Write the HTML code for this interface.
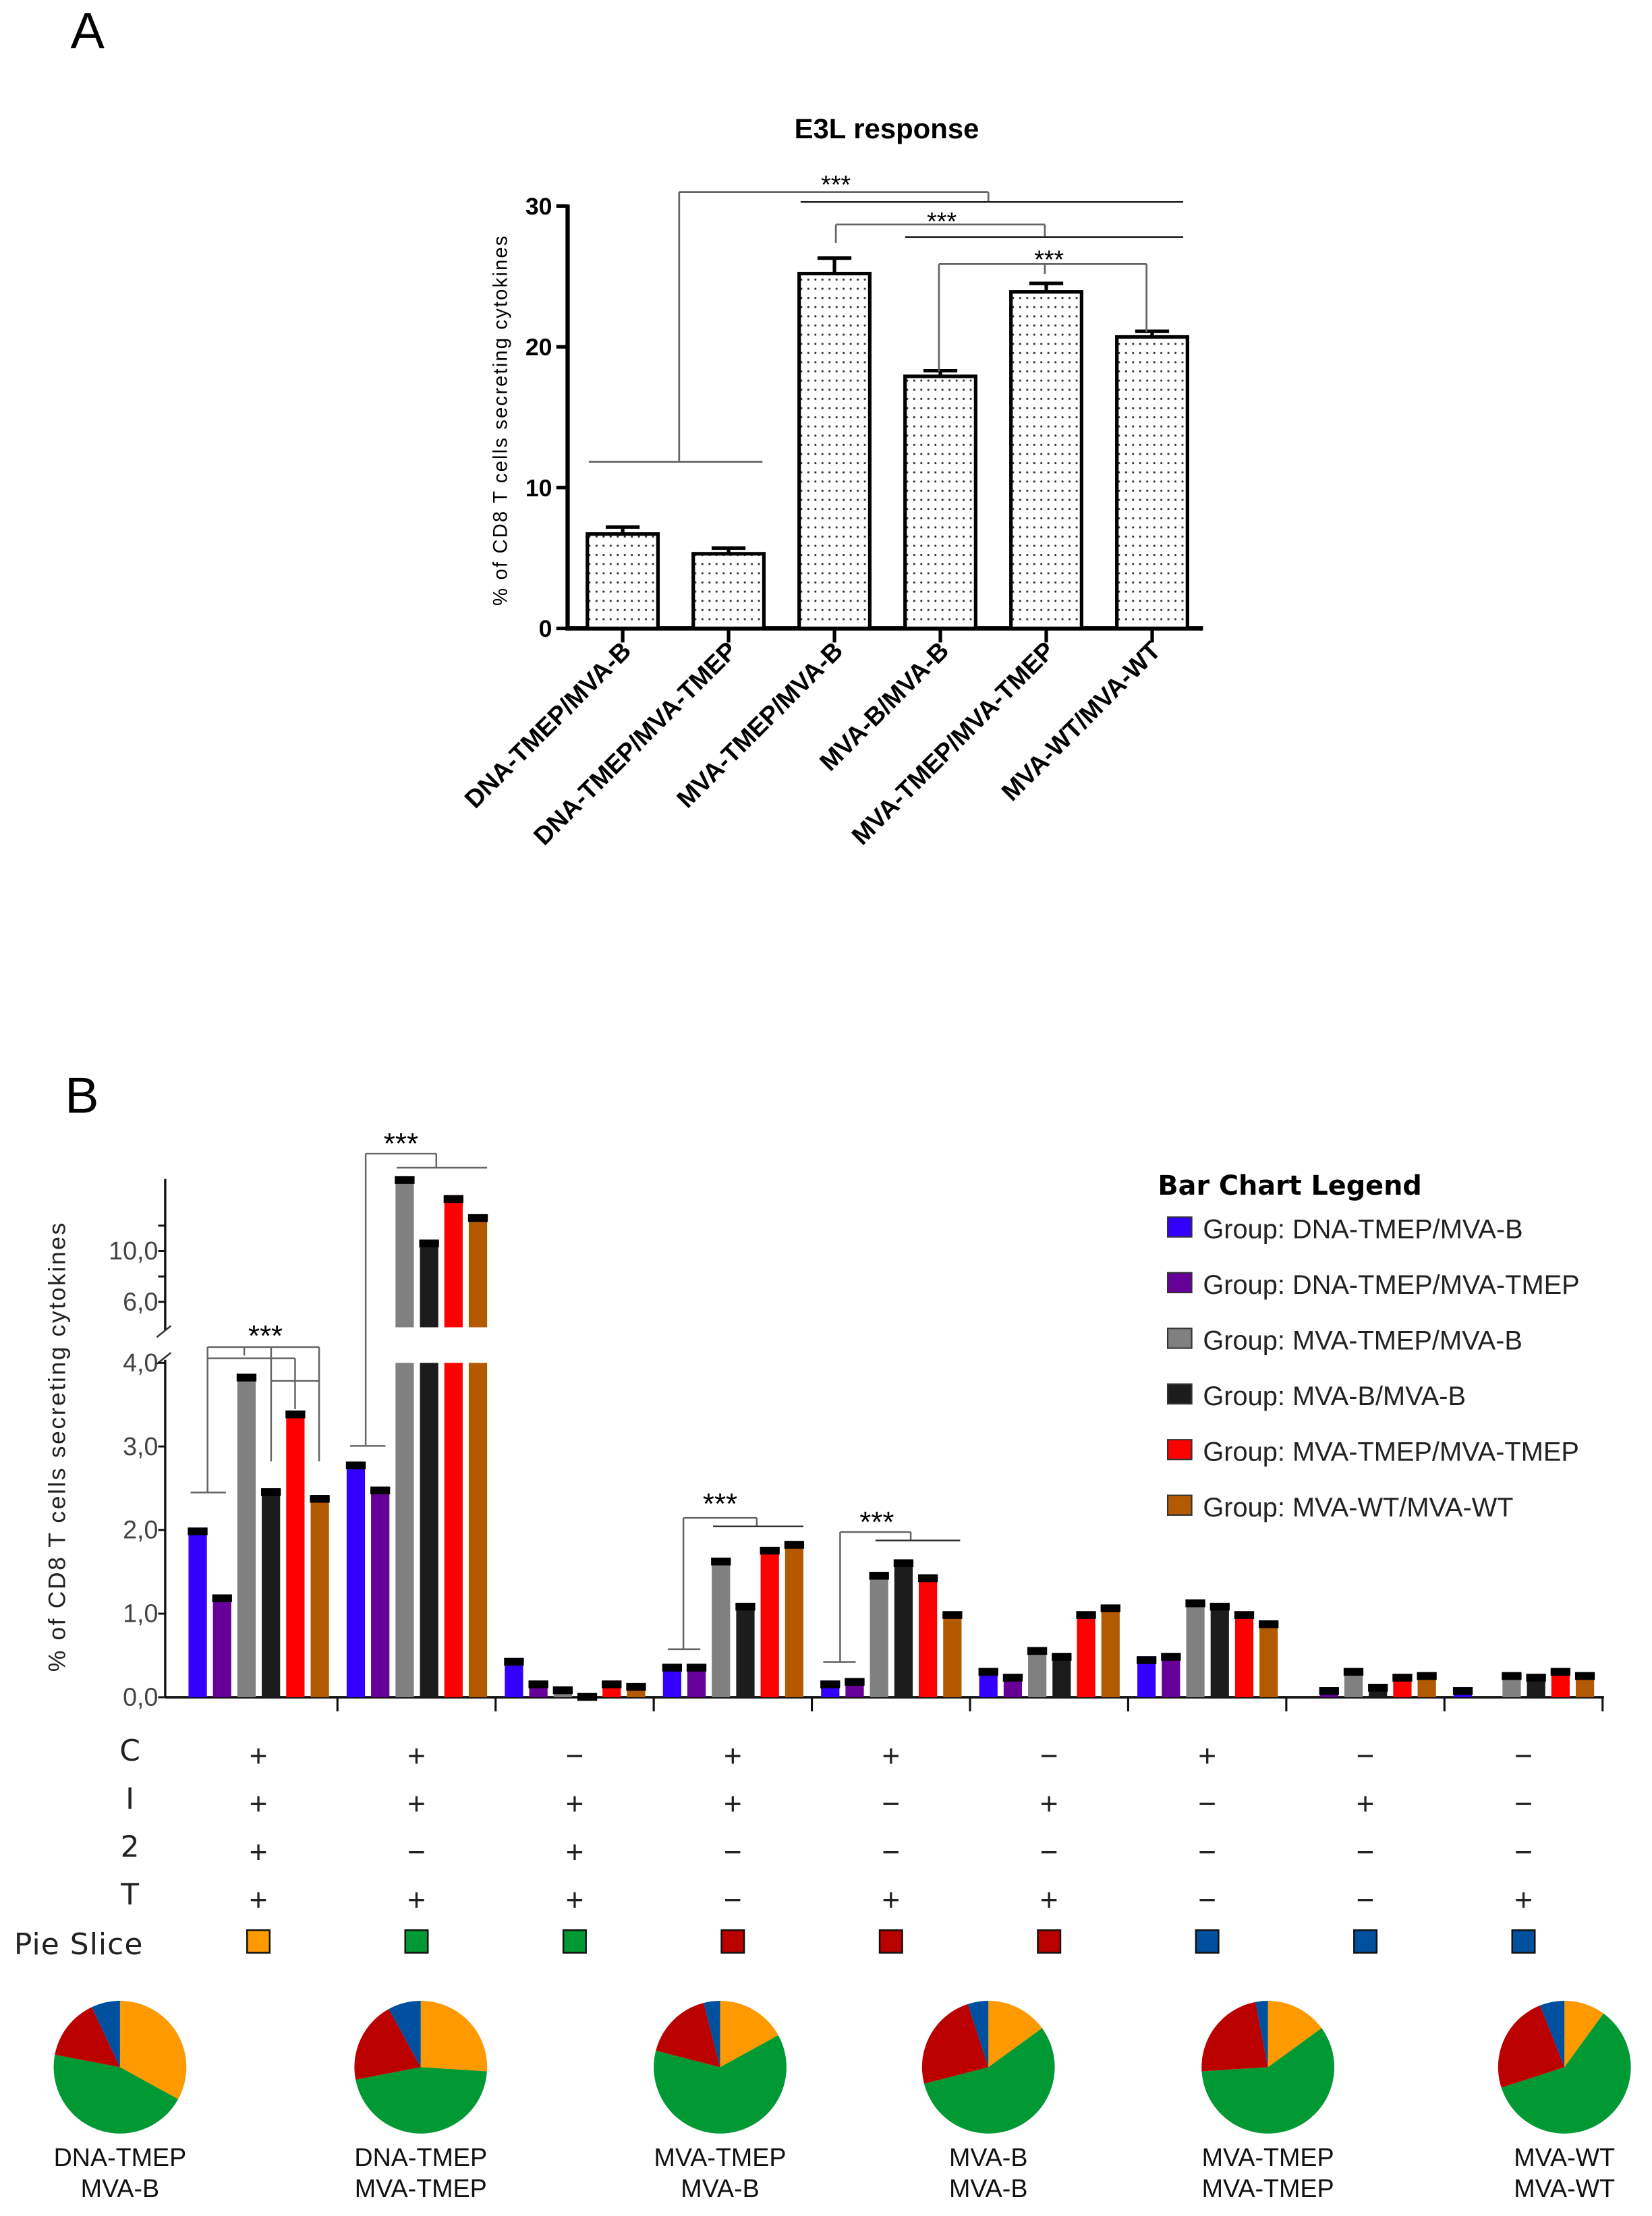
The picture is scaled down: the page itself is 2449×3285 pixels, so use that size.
<!DOCTYPE html>
<html><head><meta charset="utf-8"><style>
html,body{margin:0;padding:0;background:#fff;}
svg{display:block;}
</style></head><body>
<svg id="fig" xmlns="http://www.w3.org/2000/svg" width="2449" height="3285" viewBox="0 0 1170 1569.4" preserveAspectRatio="none" font-family="'Liberation Sans', sans-serif">
<defs>
<pattern id="dots" width="5" height="6.5" patternUnits="userSpaceOnUse">
<rect width="5" height="6.5" fill="#fff"/><circle cx="2.5" cy="3" r="0.75" fill="#333"/>
</pattern>
</defs>
<text x="50" y="34" font-size="36">A</text>
<text x="46" y="788" font-size="36">B</text>
<g id="ga"></g>
<g id="gb"></g>
</svg>
<script>
// ---------- Panel A data ----------
const aCategories = ["DNA-TMEP/MVA-B","DNA-TMEP/MVA-TMEP","MVA-TMEP/MVA-B","MVA-B/MVA-B","MVA-TMEP/MVA-TMEP","MVA-WT/MVA-WT"];
const aValues = [6.7, 5.3, 25.2, 17.9, 23.9, 20.7];
const aErrors = [0.5, 0.4, 1.1, 0.4, 0.6, 0.4];
const aTicks = [0, 10, 20, 30];
// ---------- Panel B data ----------
const bSeries = ["Group: DNA-TMEP/MVA-B","Group: DNA-TMEP/MVA-TMEP","Group: MVA-TMEP/MVA-B","Group: MVA-B/MVA-B","Group: MVA-TMEP/MVA-TMEP","Group: MVA-WT/MVA-WT"];
const bColors = ["#3300ff","#660099","#808080","#1c1c1c","#ff0000","#b35900"];
const bG1 = [2.03, 1.23, 3.87, 2.5, 3.43, 2.42];
const bG2 = [2.82, 2.52, 15.9, 10.9, 14.4, 12.9];
const bG3 = [0.47, 0.2, 0.13, 0.05, 0.2, 0.17];
const bG4 = [0.4, 0.4, 1.67, 1.13, 1.8, 1.87];
const bG5 = [0.2, 0.23, 1.5, 1.65, 1.47, 1.03];
const bG6 = [0.35, 0.28, 0.6, 0.53, 1.03, 1.11];
const bG7 = [0.49, 0.53, 1.17, 1.13, 1.03, 0.92];
const bG8 = [0, 0.12, 0.35, 0.16, 0.28, 0.3];
const bG9 = [0.12, 0, 0.3, 0.28, 0.35, 0.3];
const bGroups = [bG1,bG2,bG3,bG4,bG5,bG6,bG7,bG8,bG9];
const bLowTicks = ["0,0","1,0","2,0","3,0","4,0"];
const bLowTickVals = [0,1,2,3,4];
const bHighTicks = ["6,0","10,0"];
const bHighTickVals = [6,10];
const rowLabels = ["C","I","2","T"];
const rowC = ["+","+","−","+","+","−","+","−","−"];
const rowI = ["+","+","+","+","−","+","−","+","−"];
const row2 = ["+","−","+","−","−","−","−","−","−"];
const rowT = ["+","+","+","−","+","+","−","−","+"];
const sliceColors = ["#ff9900","#009933","#009933","#bb0000","#bb0000","#bb0000","#0050a0","#0050a0","#0050a0"];
const pieLabels1 = ["DNA-TMEP","DNA-TMEP","MVA-TMEP","MVA-B","MVA-TMEP","MVA-WT"];
const pieLabels2 = ["MVA-B","MVA-TMEP","MVA-B","MVA-B","MVA-TMEP","MVA-WT"];
const pieOrange = [0.33, 0.26, 0.17, 0.15, 0.15, 0.10];
const pieGreen = [0.45, 0.46, 0.62, 0.56, 0.59, 0.60];
const pieRed = [0.15, 0.20, 0.17, 0.24, 0.23, 0.24];
const pieBlue = [0.07, 0.08, 0.04, 0.05, 0.03, 0.06];
const pieColors = ["#ff9900","#009933","#bb0000","#0050a0"];

const NS="http://www.w3.org/2000/svg";
function mk(parent, tag, attrs, text){
  const e=document.createElementNS(NS,tag);
  for(const k in attrs) e.setAttribute(k,attrs[k]);
  if(text!==undefined) e.textContent=text;
  parent.appendChild(e); return e;
}
function ln(p,x1,y1,x2,y2,c,w){const e=mk(p,"line",{x1,y1,x2,y2,stroke:c||"#555","stroke-width":w||1.2});

return e;}

// ---------- Panel A ----------
const ga=document.getElementById("ga");
const aX0=402, aY0=445, aPx=9.97;
const ay=v=>aY0-v*aPx;
const ax=i=>441+i*75;
let t=mk(ga,"text",{x:628,y:98,"font-size":20,"font-weight":"bold","text-anchor":"middle"},"E3L response");


t=mk(ga,"text",{x:0,y:0,"font-size":14,"text-anchor":"middle",transform:"translate(359,298) rotate(-90)",textLength:262},"% of CD8 T cells secreting cytokines");


ln(ga,aX0,ay(30)-1,aX0,aY0+1.5,"#000",3);
ln(ga,aX0-1.5,aY0,852,aY0,"#000",3.2);
aTicks.forEach(v=>{
  ln(ga,aX0-8,ay(v),aX0,ay(v),"#000",2.5);
  const tt=mk(ga,"text",{x:391,y:ay(v)+6,"font-size":17,"font-weight":"bold","text-anchor":"end"},String(v));
  
  
});
aCategories.forEach((c,i)=>{
  const cx=ax(i), w=50;
  ln(ga,cx,aY0,cx,aY0+10,"#000",2.5);
  const r=mk(ga,"rect",{x:cx-w/2,y:ay(aValues[i]),width:w,height:aY0-ay(aValues[i]),fill:"url(#dots)",stroke:"#000","stroke-width":2.5});
  
  
  const top=ay(aValues[i]+aErrors[i]);
  ln(ga,cx,ay(aValues[i]),cx,top,"#000",2.5);
  ln(ga,cx-12,top,cx+12,top,"#000",2.5);
  const lb=mk(ga,"text",{x:0,y:0,"font-size":18,"font-weight":"bold","text-anchor":"end",transform:`translate(${cx+7},${462}) rotate(-45)`},c);
  
  
});
const sg="#666";
ln(ga,417,327,540,327,sg,1.3); ln(ga,481,327,481,136,sg,1.3); ln(ga,481,136,700,136,sg,1.3); ln(ga,700,136,700,143,sg,1.3);
ln(ga,567,143,838,143,"#222",1.3);
ln(ga,592,159,740,159,sg,1.3); ln(ga,592,159,592,172,sg,1.3); ln(ga,740,159,740,168,sg,1.3);
ln(ga,641,168,838,168,"#222",1.3);
ln(ga,665,187,812,187,sg,1.3); ln(ga,665,187,665,263,sg,1.3); ln(ga,740,187,740,194,sg,1.3); ln(ga,812,187,812,235,sg,1.3);
[[592,137],[667,163],[743,190]].forEach(p=>{const s=mk(ga,"text",{x:p[0],y:p[1],"font-size":18,"text-anchor":"middle"},"***");

});

// ---------- Panel B ----------
const gb=document.getElementById("gb");
const bX0=117, bY0=1202, lowPx=59.2;
const by=v=>v<=4? bY0-v*lowPx : 922-(v-6)*9;
const gStart=g=>127+g*112;
const bx=(g,s)=>gStart(g)+13+s*17.3;
t=mk(gb,"text",{x:0,y:0,"font-size":17,"text-anchor":"middle",fill:"#222",transform:"translate(46,1025) rotate(-90)",textLength:318},"% of CD8 T cells secreting cytokines");


ln(gb,bX0,963,bX0,bY0,"#111",1.6);
ln(gb,bX0,835,bX0,942,"#111",1.6);
ln(gb,bX0-6,947,bX0+4,939,"#333",1.2);
ln(gb,bX0-6,966,bX0+4,958,"#333",1.2);
ln(gb,bX0,bY0,1136,bY0,"#111",1.8);
for(let g=1;g<=9;g++){ ln(gb,gStart(g),bY0,gStart(g),bY0+10,"#111",1.5); }
bLowTickVals.forEach((v,i)=>{ln(gb,bX0-5,by(v),bX0,by(v),"#111",1.4);
 const tt=mk(gb,"text",{x:bX0-5,y:by(v)+6,"font-size":18,"text-anchor":"end",fill:"#444"},bLowTicks[i]);
 
 });
[12,10,8,6].forEach(v=>ln(gb,bX0-5,by(v),bX0,by(v),"#111",1.4));
bHighTickVals.forEach((v,i)=>{const tt=mk(gb,"text",{x:bX0-5,y:by(v)+6,"font-size":18,"text-anchor":"end",fill:"#444"},bHighTicks[i]);
 
 });
const bw=13;
bGroups.forEach((vals,g)=>{
  vals.forEach((v,s)=>{
    if(v<=0) return;
    const x=bx(g,s)-bw/2;
    if(v<=4){
      const r=mk(gb,"rect",{x,y:by(v),width:bw,height:bY0-by(v),fill:bColors[s]});
      
      
    } else {
      const r=mk(gb,"rect",{x,y:by(4),width:bw,height:bY0-by(4),fill:bColors[s]});
      
      
      const r2=mk(gb,"rect",{x,y:by(v),width:bw,height:940-by(v),fill:bColors[s]});
      
      
    }
    const c=mk(gb,"rect",{x:x-0.5,y:by(v),width:bw+1,height:5.5,fill:"#000"});
    
    
  });
});
const s2="#666";
ln(gb,135,1057,160,1057,s2); ln(gb,147,1057,147,954,s2); ln(gb,147,954,226,954,s2); ln(gb,173,954,173,960,s2);
ln(gb,147,962,209,962,s2); ln(gb,209,962,209,998,s2);
ln(gb,192,954,192,1035,s2); ln(gb,192,978,226,978,s2); ln(gb,226,954,226,1035,s2);
ln(gb,248,1024,273,1024,s2); ln(gb,259,1024,259,817,s2); ln(gb,259,817,309,817,s2); ln(gb,309,817,309,827,s2); ln(gb,281,827,345,827,s2);
ln(gb,473,1168,496,1168,s2); ln(gb,484,1168,484,1075,s2); ln(gb,484,1075,536,1075,s2); ln(gb,536,1075,536,1081,s2); ln(gb,505,1081,569,1081,"#333");
ln(gb,583,1177,606,1177,s2); ln(gb,595,1177,595,1085,s2); ln(gb,595,1085,645,1085,s2); ln(gb,645,1085,645,1091,s2); ln(gb,620,1091,680,1091,"#333");
[[188,953],[284,817],[510,1072],[621,1085]].forEach(p=>{const s=mk(gb,"text",{x:p[0],y:p[1],"font-size":21,"text-anchor":"middle"},"***");

});
t=mk(gb,"text",{x:820,y:846,"font-size":19,"font-weight":"bold","font-family":"'DejaVu Sans', sans-serif",textLength:187},"Bar Chart Legend");


bSeries.forEach((s,i)=>{
  const y=870+i*39.4;
  const g=mk(gb,"g",{});
  
  
  mk(g,"rect",{x:827,y:y-8,width:17,height:14,fill:bColors[i],stroke:"#333","stroke-width":1});
  mk(g,"text",{x:852,y:y+7,"font-size":19,fill:"#222"},s);
});
const rows=[rowC,rowI,row2,rowT];
const rowY=[1240,1274,1308,1342];
rowLabels.forEach((l,i)=>{
  const tt=mk(gb,"text",{x:92,y:rowY[i]+7,"font-size":21,"text-anchor":"middle",fill:"#222","font-family":"'DejaVu Sans', sans-serif"},l);
  
  
  rows[i].forEach((sym,g)=>{
    const st=mk(gb,"text",{x:gStart(g)+56,y:rowY[i]+11,"font-size":22,"text-anchor":"middle",fill:"#222"},sym);
    
    
  });
});
t=mk(gb,"text",{x:10,y:1384,"font-size":21,fill:"#222","font-family":"'DejaVu Sans', sans-serif",textLength:91},"Pie Slice");


sliceColors.forEach((c,g)=>{
  const r=mk(gb,"rect",{x:gStart(g)+48,y:1367,width:16,height:16,fill:c,stroke:"#111","stroke-width":1.2});
  
  
});
const pieCx=[85,298,510,700,898,1108], pieCy=1464, pieR=47;
pieLabels1.forEach((l,p)=>{
  const fr=[pieOrange[p],pieGreen[p],pieRed[p],pieBlue[p]];
  const tot=fr.reduce((a,b)=>a+b,0);
  let a0=0;
  const g=mk(gb,"g",{});
  
  
  fr.forEach((f,k)=>{
    const a1=a0+f/tot*2*Math.PI;
    const x0=pieCx[p]+pieR*Math.sin(a0), y0=pieCy-pieR*Math.cos(a0);
    const x1=pieCx[p]+pieR*Math.sin(a1), y1=pieCy-pieR*Math.cos(a1);
    const large=(a1-a0)>Math.PI?1:0;
    const path=mk(g,"path",{d:`M${pieCx[p]},${pieCy} L${x0},${y0} A${pieR},${pieR} 0 ${large} 1 ${x1},${y1} Z`,fill:pieColors[k]});
    
    
    a0=a1;
  });
  const t1=mk(gb,"text",{x:pieCx[p],y:1534,"font-size":18,"text-anchor":"middle",fill:"#111"},l);
  
  
  const t2=mk(gb,"text",{x:pieCx[p],y:1556,"font-size":18,"text-anchor":"middle",fill:"#111"},pieLabels2[p]);
  
  
});
</script>
</body></html>
